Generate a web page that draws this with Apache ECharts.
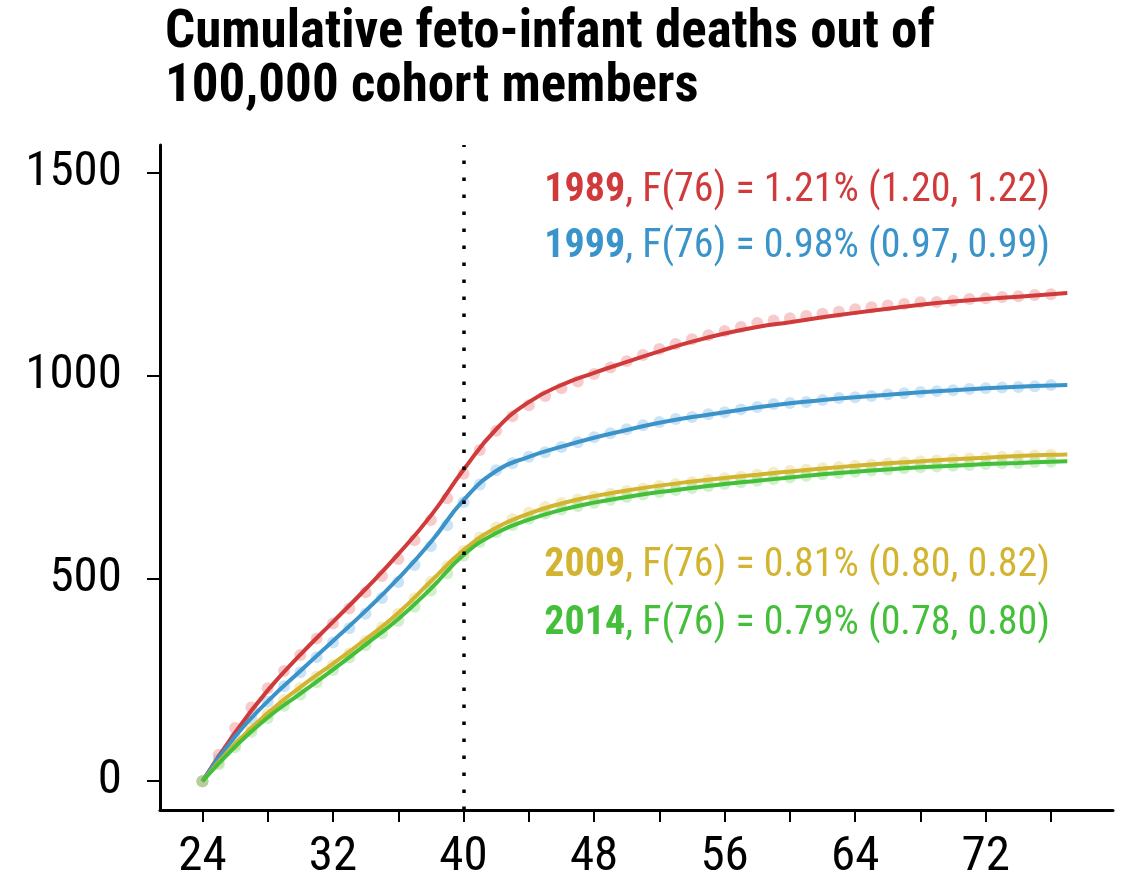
<!DOCTYPE html>
<html><head><meta charset="utf-8">
<script src="https://cdn.jsdelivr.net/npm/echarts@6/dist/echarts.min.js"></script>
<style>html,body{margin:0;padding:0;background:#fff}#c{width:1127px;height:879px}</style>
</head><body><div id="c"></div>
<script>
const obsWeeks = [24,25,26,27,28,29,30,31,32,33,34,35,36,37,38,39,40,41,42,43,44,45,46,47,48,49,50,51,52,53,54,55,56,57,58,59,60,61,62,63,64,65,66,67,68,69,70,71,72,73,74,75,76];
const fitWeeks = [24,26,28,30,32,34,36,38,40,42,44,46,48,50,52,54,56,58,60,62,64,66,68,70,72,74,76,77];

const obs1989 = [0,65,131,182,229,272,311,352,389,426,466,506,548,594,644,698,758,817,864,900,927,950,969,986,1004,1020,1036,1051,1066,1078,1090,1100,1110,1120,1130,1136,1142,1147,1153,1158,1164,1169,1173,1177,1181,1182,1185,1189,1191,1194,1196,1199,1201];
const obs1999 = [0,55,108,155,196,234,269,306,342,377,413,452,491,533,580,631,688,732,767,784,800,811,824,836,848,858,868,878,886,893,898,905,910,917,923,930,933,935,940,945,947,950,954,957,960,962,964,967,969,971,972,974,977];
const obs2009 = [0,45,90,130,166,200,230,258,286,315,346,379,413,451,491,530,568,601,626,646,662,676,686,695,702,709,716,722,728,733,738,743,747,751,756,761,765,768,772,775,778,781,784,786,789,791,794,796,798,800,802,803,805];
const obs2014 = [0,42,84,122,156,186,214,244,274,305,335,364,395,430,470,512,556,590,614,632,647,660,670,679,687,694,701,707,713,718,723,728,733,737,741,745,749,753,757,760,763,766,769,772,774,776,778,780,782,784,785,787,788];

const fit1989 = [0,120,224,312,393,474,560,655,768,868,935,977,1007,1034,1060,1084,1104,1120,1132,1144,1155,1165,1175,1183,1189,1195,1201,1204];
const fit1999 = [0,110,197,272,346,420,500,590,693,765,800,825,847,866,884,898,910,922,932,940,947,953,959,964,969,973,976,977];
const fit2009 = [0,92,168,232,290,350,415,493,570,625,660,685,703,717,729,739,748,756,764,771,778,784,789,794,798,802,805,806];
const fit2014 = [0,85,157,216,275,337,400,475,558,612,645,669,687,701,713,723,733,741,749,757,763,769,774,778,782,785,788,789];

const years = ['1989','1999','2009','2014'];
const f76 = ['1.21','0.98','0.81','0.79'];
const ciLow = ['1.20','0.97','0.80','0.78'];
const ciHigh = ['1.22','0.99','0.82','0.80'];

const xTicks = [24,28,32,36,40,44,48,52,56,60,64,68,72,76];
const xLabels = [24,32,40,48,56,64,72];
const yTicks = [0,500,1000,1500];
const cutoffWeek = 40;

const colors = ['#d03a3a','#3a93c9','#d2b430','#43bf3a'];
const dotColors = ['rgba(235,125,125,0.5)','rgba(125,185,228,0.5)','rgba(228,208,115,0.5)','rgba(135,218,125,0.5)'];
const obsAll = [obs1989, obs1999, obs2009, obs2014];
const fitAll = [fit1989, fit1999, fit2009, fit2014];

const FONT = "'Roboto Condensed','DejaVu Sans Condensed','Liberation Sans Narrow',Roboto,sans-serif";

const series = [];
obsAll.forEach((arr, i) => {
  series.push({
    type: 'scatter', name: years[i] + ' obs', symbolSize: 12, z: 2,
    itemStyle: { color: dotColors[i] },
    data: obsWeeks.map((w, k) => [w, arr[k]]), silent: true
  });
});
fitAll.forEach((arr, i) => {
  const s = {
    type: 'line', name: years[i], smooth: 0.5, showSymbol: false, z: 3,
    lineStyle: { color: colors[i], width: 4 },
    data: fitWeeks.map((w, k) => [w, arr[k]]), silent: true
  };
  if (i === 0) {
    s.markLine = {
      silent: true, symbol: 'none', label: { show: false },
      lineStyle: { color: '#000', width: 3.5, type: [3.5, 13.5], cap: 'butt' },
      data: [{ xAxis: cutoffWeek }]
    };
  }
  series.push(s);
});

const annTop = [166, 222, 541, 599];
const titles = [{
  text: 'Cumulative feto-infant deaths out of\n100,000 cohort members',
  left: 160, top: 2,
  textStyle: { fontFamily: FONT, fontWeight: 'bold', fontSize: 53, lineHeight: 54, color: '#000' }
}];
years.forEach((y, i) => {
  titles.push({
    text: '{b|' + y + '}{n|, F(76) = ' + f76[i] + '% (' + ciLow[i] + ', ' + ciHigh[i] + ')}',
    right: 72, top: annTop[i],
    textStyle: {
      rich: {
        b: { fontFamily: FONT, fontWeight: 'bold', fontSize: 40, color: colors[i] },
        n: { fontFamily: FONT, fontWeight: 'normal', fontSize: 40, color: colors[i] }
      }
    }
  });
});

const chart = echarts.init(document.getElementById('c'), null, { renderer: 'canvas' });
chart.setOption({
  animation: false,
  backgroundColor: '#fff',
  title: titles,
  grid: { left: 160, right: 14, top: 145, bottom: 69, containLabel: false, outerBoundsMode: 'none' },
  xAxis: {
    type: 'value', min: 21.4, max: 79.8,
    splitLine: { show: false },
    axisLine: { onZero: false, lineStyle: { color: '#000', width: 3 } },
    axisTick: { customValues: xTicks, length: 12, lineStyle: { color: '#000', width: 2 } },
    axisLabel: { customValues: xLabels, margin: 23, fontFamily: FONT, fontSize: 49, color: '#000', formatter: v => String(v) }
  },
  yAxis: {
    type: 'value', min: -71, max: 1569,
    splitLine: { show: false },
    axisLine: { show: true, onZero: false, lineStyle: { color: '#000', width: 3 } },
    axisTick: { show: true, customValues: yTicks, length: 13, lineStyle: { color: '#000', width: 2 } },
    axisLabel: { customValues: yTicks, margin: 38, fontFamily: FONT, fontSize: 49, color: '#000', formatter: v => String(v) }
  },
  series: series
});
</script></body></html>
